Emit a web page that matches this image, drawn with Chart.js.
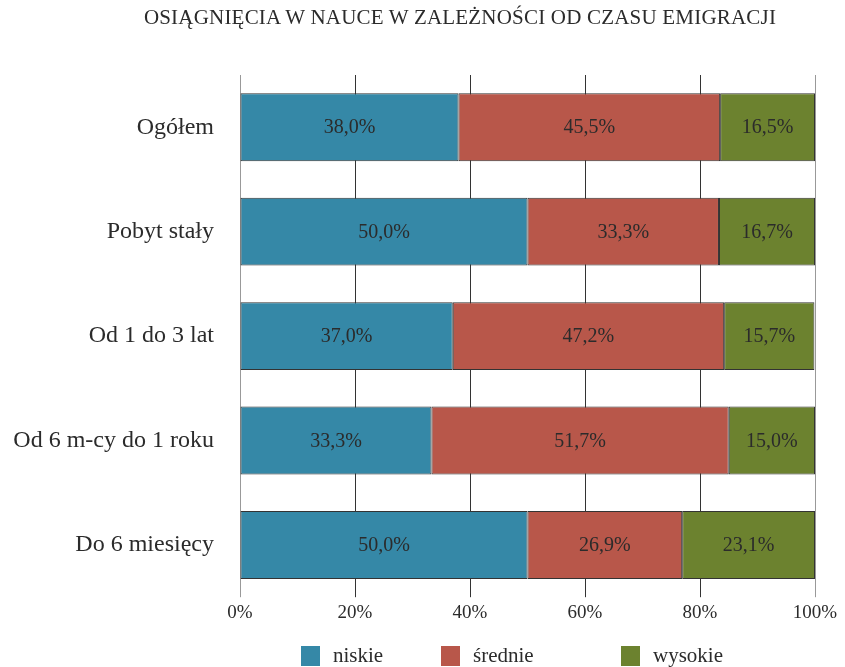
<!DOCTYPE html>
<html lang="pl">
<head>
<meta charset="utf-8">
<script src="https://cdn.jsdelivr.net/npm/chart.js@4"></script>
<style>
  body { margin: 0; background: #fff; font-family: "Liberation Serif", serif; color: #2b2b2b; }
  #wrap { position: relative; width: 845px; height: 667px; }
  #title { position: absolute; left: 0; width: 920px; top: 5px; text-align: center; font-size: 21px; letter-spacing: 0.2px; }
  #legend { position: absolute; left: 0; top: 643px; width: 845px; height: 25px; font-size: 21px; }
  .item { position: absolute; top: 0; display: flex; align-items: center; }
  .sw { width: 19px; height: 20px; margin-right: 13px; }
</style>
</head>
<body>
<div id="wrap">
  <div id="title">OSIĄGNIĘCIA W NAUCE W ZALEŻNOŚCI OD CZASU EMIGRACJI</div>
  <canvas id="chart" width="845" height="667"></canvas>
  <div id="legend"></div>
</div>
<script>
const categories = ["Ogółem", "Pobyt stały", "Od 1 do 3 lat", "Od 6 m-cy do 1 roku", "Do 6 miesięcy"];
const seriesNames = ["niskie", "średnie", "wysokie"];
const niskie = [38.0, 50.0, 37.0, 33.3, 50.0];
const srednie = [45.5, 33.3, 47.2, 51.7, 26.9];
const wysokie = [16.5, 16.7, 15.7, 15.0, 23.1];
const colors = ["#3588a7", "#b8574a", "#6c822f"];
const legendLeft = [301, 441, 621];

const fmt = (v) => v.toFixed(1).replace(".", ",") + "%";

// napisy z wartościami na środku słupków
const barLabels = {
  id: "barLabels",
  afterDatasetsDraw(chart) {
    const ctx = chart.ctx;
    ctx.save();
    ctx.font = "20px 'Liberation Serif'";
    ctx.fillStyle = "#2b2b2b";
    ctx.textAlign = "center";
    ctx.textBaseline = "middle";
    chart.data.datasets.forEach((ds, i) => {
      chart.getDatasetMeta(i).data.forEach((bar, j) => {
        ctx.fillText(fmt(ds.data[j]), (bar.x + bar.base) / 2, bar.y + 1);
      });
    });
    ctx.restore();
  }
};

new Chart(document.getElementById("chart"), {
  type: "bar",
  data: {
    labels: categories,
    datasets: [niskie, srednie, wysokie].map((d, i) => ({
      label: seriesNames[i],
      data: d,
      backgroundColor: colors[i],
      borderColor: "#333",
      borderWidth: 1,
      borderSkipped: false,
      barPercentage: 0.65,
      categoryPercentage: 1
    }))
  },
  options: {
    indexAxis: "y",
    responsive: false,
    animation: false,
    layout: { padding: { top: 75, right: 30, bottom: 39, left: 0 } },
    plugins: { legend: { display: false }, tooltip: { enabled: false } },
    scales: {
      x: {
        stacked: true,
        min: 0,
        max: 100,
        ticks: {
          stepSize: 20,
          color: "#2b2b2b",
          font: { family: "Liberation Serif", size: 19 },
          padding: 4,
          callback: (v) => v + "%"
        },
        grid: {
          color: (c) => (c.index === 0 || c.index === 5 ? "#999" : "#333"),
          tickLength: 0
        },
        border: { display: false }
      },
      y: {
        stacked: true,
        afterFit: (scale) => { scale.width = 240; },
        ticks: {
          color: "#2b2b2b",
          font: { family: "Liberation Serif", size: 24 },
          padding: 26
        },
        grid: { display: false, drawTicks: false, tickLength: 0 },
        border: { display: false }
      }
    }
  },
  plugins: [barLabels]
});

const legend = document.getElementById("legend");
seriesNames.forEach((name, i) => {
  const item = document.createElement("div");
  item.className = "item";
  item.style.left = legendLeft[i] + "px";
  item.innerHTML = '<span class="sw" style="background:' + colors[i] + '"></span><span>' + name + "</span>";
  legend.appendChild(item);
});
</script>
</body>
</html>
